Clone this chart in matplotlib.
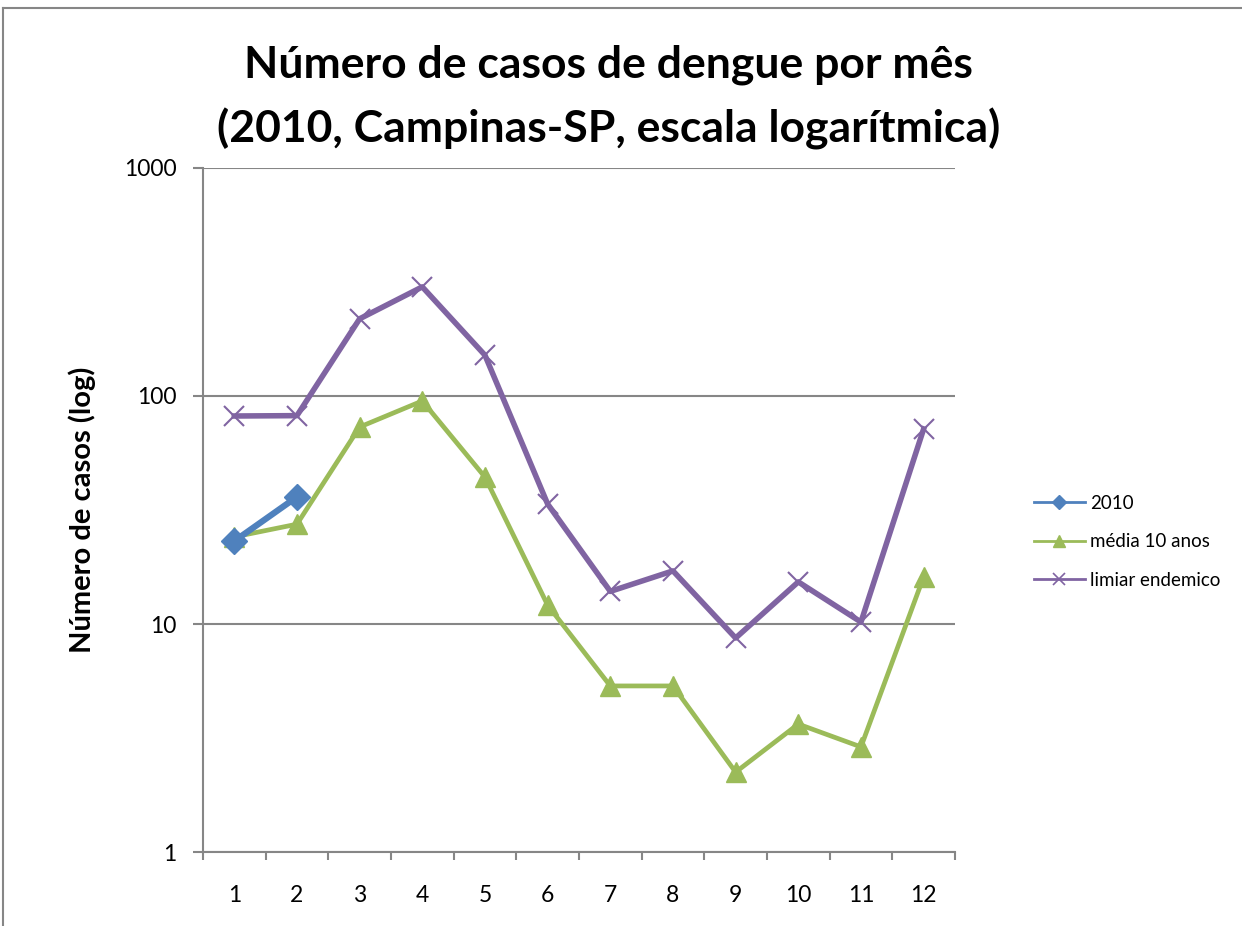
import matplotlib.pyplot as plt
from matplotlib.lines import Line2D
from matplotlib.ticker import FixedLocator, NullFormatter

# dados
meses = list(range(1, 13))
casos_2010 = [23.1, 36.1]
media_10_anos = [24.1, 27.4, 73.1, 95.1, 44.1, 12.1, 5.35, 5.35, 2.24, 3.64, 2.89, 16.1]
limiar_endemico = [81.7, 82.0, 218, 301, 151, 33.6, 13.9, 17.1, 8.68, 15.3, 10.2, 71.7]
y_ticks = [1, 10, 100, 1000]

plt.rcParams['font.family'] = ['Lato', 'DejaVu Sans']

azul = '#4F81BD'
verde = '#9BBB59'
roxo = '#8064A2'
cinza = '#868686'

fig = plt.figure(figsize=(12.42, 9.26), dpi=100)
ax = fig.add_axes([0.1634, 0.0799, 0.6055, 0.7387])

# séries
ax.plot(meses, limiar_endemico, color=roxo, linewidth=4.0, marker='x',
        markersize=14, markeredgewidth=1.5, zorder=3)
ax.plot(meses, media_10_anos, color=verde, linewidth=3.4, marker='^',
        markersize=15, zorder=4)
ax.plot(meses[:len(casos_2010)], casos_2010, color=azul, linewidth=4.5, marker='D',
        markersize=13, zorder=5)

ax.set_yscale('log')
ax.set_ylim(1, 1000)
ax.set_xlim(0.5, 12.5)

ax.yaxis.set_major_locator(FixedLocator(y_ticks))
ax.set_yticklabels([str(v) for v in y_ticks])
ax.yaxis.set_minor_locator(FixedLocator([]))
ax.yaxis.set_minor_formatter(NullFormatter())

ax.set_xticks(meses)
ax.set_xticklabels([str(m) for m in meses])
ax.set_xticks([m + 0.5 for m in range(0, 13)], minor=True)
ax.tick_params(axis='x', which='major', length=0, pad=24, labelsize=16.5)
ax.tick_params(axis='x', which='minor', length=6, width=1.5, color=cinza, direction='out')
ax.tick_params(axis='y', which='major', length=7, width=1.5, color=cinza,
               direction='out', pad=12, labelsize=16.5)

ax.grid(axis='y', which='major', color=cinza, linewidth=1.5)
ax.set_axisbelow(True)
for s in ['top', 'right']:
    ax.spines[s].set_visible(False)
for s in ['left', 'bottom']:
    ax.spines[s].set_color(cinza)
    ax.spines[s].set_linewidth(1.5)

ax.set_ylabel('Número de casos (log)', fontsize=21, fontweight='bold', labelpad=20)

fig.text(0.49, 0.93, 'Número de casos de dengue por mês', ha='center', va='center',
         fontsize=32, fontweight='bold')
fig.text(0.49, 0.861, '(2010, Campinas-SP, escala logarítmica)', ha='center', va='center',
         fontsize=32, fontweight='bold')

# legenda
handles = [
    Line2D([], [], color=azul, linewidth=2, marker='D', markersize=7),
    Line2D([], [], color=verde, linewidth=2, marker='^', markersize=8),
    Line2D([], [], color=roxo, linewidth=2, marker='x', markersize=8, markeredgewidth=1.2),
]
fig.legend(handles, ['2010', 'média 10 anos', 'limiar endemico'],
           loc='center left', bbox_to_anchor=(0.819, 0.415), frameon=False,
           fontsize=13.5, handlelength=2.7, labelspacing=1.15, handletextpad=0.3)

# borda do gráfico
fig.add_artist(Line2D([0.0025, 1.0], [0.9915, 0.9915], color=cinza, linewidth=1.5))
fig.add_artist(Line2D([0.0025, 0.0025], [0.0, 0.9915], color=cinza, linewidth=1.5))

fig.savefig('out.png', dpi=100)
